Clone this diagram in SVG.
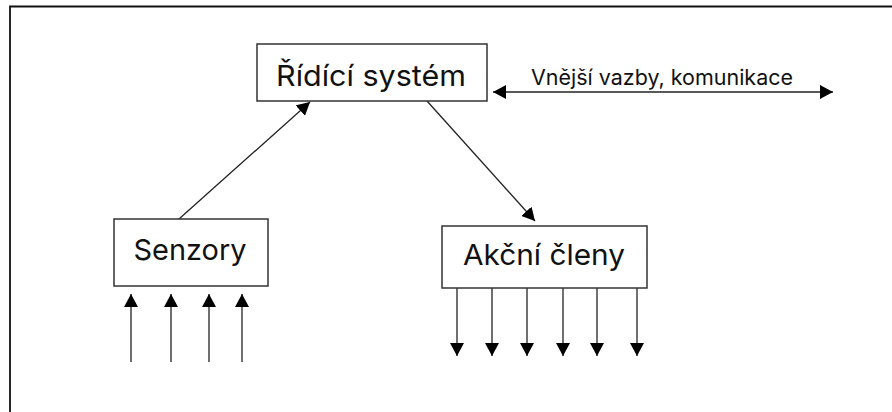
<svg xmlns="http://www.w3.org/2000/svg" width="892" height="412" viewBox="0 0 892 412">
<style>
.box{fill:#fff;stroke:#333;stroke-width:1.5}
.lbl{font-family:Inter,"Liberation Sans",sans-serif;font-size:29px;fill:#111;text-anchor:middle}
.small{font-family:Inter,"Liberation Sans",sans-serif;font-size:21px;fill:#111;text-anchor:middle}
.ln{stroke:#222;stroke-width:1.3;fill:none}
.ar{marker-end:url(#ah)}
.frame{stroke:#111;stroke-width:1.8;fill:none}
</style>
<defs>
<marker id="ah" markerUnits="userSpaceOnUse" markerWidth="14" markerHeight="14" refX="13" refY="7" orient="auto-start-reverse" viewBox="0 0 14 14">
<path d="M0,0 L13,7 L0,14 z" fill="#000"/>
</marker>
</defs>
<rect width="892" height="412" fill="#fff"/>
<path class="frame" d="M10,412 V6.5 H892"/>
<g id="connectors">
<line class="ln ar" x1="179" y1="219" x2="310" y2="102"/>
<line class="ln ar" x1="427" y1="101" x2="535" y2="221"/>
<line class="ln" x1="493" y1="92" x2="833" y2="92" marker-start="url(#ah)" marker-end="url(#ah)"/>
<line class="ln ar" x1="131" y1="362" x2="131" y2="294"/>
<line class="ln ar" x1="171" y1="362" x2="171" y2="294"/>
<line class="ln ar" x1="209" y1="362" x2="209" y2="294"/>
<line class="ln ar" x1="242" y1="362" x2="242" y2="294"/>
<line class="ln ar" x1="457" y1="288" x2="457" y2="356"/>
<line class="ln ar" x1="492" y1="288" x2="492" y2="356"/>
<line class="ln ar" x1="527" y1="288" x2="527" y2="356"/>
<line class="ln ar" x1="563" y1="288" x2="563" y2="356"/>
<line class="ln ar" x1="597" y1="288" x2="597" y2="356"/>
<line class="ln ar" x1="637" y1="288" x2="637" y2="356"/>
<text class="small" x="662" y="85" textLength="262" lengthAdjust="spacingAndGlyphs">Vnější vazby, komunikace</text>
</g>
<g id="ridici-system">
<rect class="box" x="257" y="44" width="230" height="57"/>
<text class="lbl" x="371" y="86" textLength="190" lengthAdjust="spacingAndGlyphs">Řídící systém</text>
</g>
<g id="senzory">
<rect class="box" x="114" y="219" width="154" height="67"/>
<text class="lbl" x="190" y="260" textLength="113" lengthAdjust="spacingAndGlyphs">Senzory</text>
</g>
<g id="akcni-cleny">
<rect class="box" x="442" y="226" width="205" height="62"/>
<text class="lbl" x="544" y="265" textLength="162" lengthAdjust="spacingAndGlyphs">Akční členy</text>
</g>
</svg>
